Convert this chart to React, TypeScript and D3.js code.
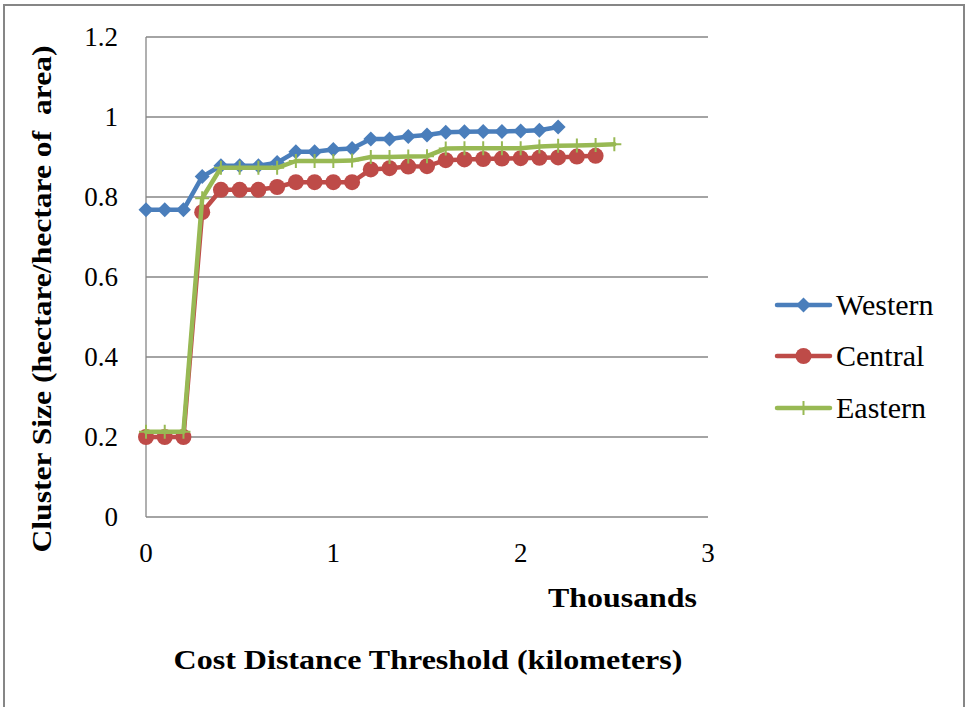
import React from "react";
import * as d3 from "d3";

// Cost distance thresholds (thousands of km), one step every 0.1
const thresholdsWestern = [0, 0.1, 0.2, 0.3, 0.4, 0.5, 0.6, 0.7, 0.8, 0.9, 1.0, 1.1, 1.2, 1.3, 1.4, 1.5, 1.6, 1.7, 1.8, 1.9, 2.0, 2.1, 2.2];
const thresholdsCentral = [0, 0.1, 0.2, 0.3, 0.4, 0.5, 0.6, 0.7, 0.8, 0.9, 1.0, 1.1, 1.2, 1.3, 1.4, 1.5, 1.6, 1.7, 1.8, 1.9, 2.0, 2.1, 2.2, 2.3, 2.4];
const thresholdsEastern = [0, 0.1, 0.2, 0.3, 0.4, 0.5, 0.6, 0.7, 0.8, 0.9, 1.0, 1.1, 1.2, 1.3, 1.4, 1.5, 1.6, 1.7, 1.8, 1.9, 2.0, 2.1, 2.2, 2.3, 2.4, 2.5];

// Cluster size (hectare/hectare of area)
const westernValues = [0.768, 0.768, 0.768, 0.851, 0.878, 0.878, 0.878, 0.886, 0.913, 0.913, 0.919, 0.921, 0.945, 0.945, 0.951, 0.955, 0.962, 0.963, 0.964, 0.964, 0.965, 0.967, 0.975];
const centralValues = [0.2, 0.2, 0.2, 0.762, 0.818, 0.818, 0.818, 0.825, 0.837, 0.837, 0.837, 0.837, 0.869, 0.872, 0.876, 0.877, 0.892, 0.894, 0.895, 0.896, 0.897, 0.898, 0.899, 0.901, 0.903];
const easternValues = [0.213, 0.213, 0.213, 0.797, 0.873, 0.873, 0.873, 0.873, 0.89, 0.89, 0.89, 0.891, 0.9, 0.9, 0.901, 0.902, 0.921, 0.922, 0.922, 0.922, 0.922, 0.926, 0.928, 0.929, 0.93, 0.932];

const seriesNames = ["Western", "Central", "Eastern"];
const seriesColors = ["#4A7EBB", "#BE4B48", "#98B954"];
const seriesMarkers = ["diamond", "circle", "plus"];

const yTicks = [0, 0.2, 0.4, 0.6, 0.8, 1, 1.2];
const xTicks = [0, 1, 2, 3];

const W = 966;
const H = 707;
const plot = { left: 146, right: 708, top: 37, bottom: 517 };
const serif = "'Liberation Serif', 'Times New Roman', Times, serif";

function Marker({ kind, x, y, color }: { kind: string; x: number; y: number; color: string }) {
  if (kind === "diamond") {
    const r = 7.5;
    return <path d={`M${x},${y - r}L${x + r},${y}L${x},${y + r}L${x - r},${y}Z`} fill={color} />;
  }
  if (kind === "circle") {
    return <circle cx={x} cy={y} r={8} fill={color} />;
  }
  const r = 7;
  return (
    <path d={`M${x - r},${y}L${x + r},${y}M${x},${y - r}L${x},${y + r}`} stroke={color} strokeWidth={2} fill="none" />
  );
}

export default function App() {
  const x = d3.scaleLinear().domain([0, 3]).range([plot.left, plot.right]);
  const y = d3.scaleLinear().domain([0, 1.2]).range([plot.bottom, plot.top]);

  const series = [
    { xs: thresholdsWestern, ys: westernValues },
    { xs: thresholdsCentral, ys: centralValues },
    { xs: thresholdsEastern, ys: easternValues },
  ];

  const line = d3
    .line<[number, number]>()
    .x((d) => x(d[0]))
    .y((d) => y(d[1]));

  const legendY = [305, 356, 408];
  const txt = { fontFamily: serif, fill: "#000" } as React.CSSProperties;

  return (
    <svg width={W} height={H} style={{ position: "absolute", left: 0, top: 0, background: "#fff" }}>
      <rect x={0} y={0} width={W} height={H} fill="#fff" />
      {/* chart frame */}
      <path d={`M4,${H + 2}V5H964V${H + 2}`} fill="none" stroke="#868686" strokeWidth={2} />

      {/* horizontal gridlines */}
      {yTicks.map((t) => (
        <line key={t} x1={plot.left} x2={plot.right} y1={y(t)} y2={y(t)} stroke="#868686" strokeWidth={1.3} />
      ))}
      {/* value axis */}
      <line x1={plot.left} x2={plot.left} y1={plot.top} y2={plot.bottom} stroke="#868686" strokeWidth={1.3} />

      {yTicks.map((t) => (
        <text key={t} x={118} y={y(t)} dy="0.35em" textAnchor="end" fontSize={27} style={txt}>
          {d3.format("")(t)}
        </text>
      ))}
      {xTicks.map((t) => (
        <text key={t} x={x(t)} y={562} textAnchor="middle" fontSize={27} style={txt}>
          {t}
        </text>
      ))}

      {/* series */}
      {series.map((s, i) => {
        const pts = s.xs.map((v, j) => [v, s.ys[j]] as [number, number]);
        return (
          <g key={i}>
            <path
              d={line(pts) || ""}
              fill="none"
              stroke={seriesColors[i]}
              strokeWidth={4.5}
              strokeLinejoin="round"
              strokeLinecap="round"
            />
            {pts.map((p, j) => (
              <Marker key={j} kind={seriesMarkers[i]} x={x(p[0])} y={y(p[1])} color={seriesColors[i]} />
            ))}
          </g>
        );
      })}

      {/* legend */}
      {seriesNames.map((name, i) => (
        <g key={name}>
          <line x1={777} x2={830} y1={legendY[i]} y2={legendY[i]} stroke={seriesColors[i]} strokeWidth={4.5} strokeLinecap="round" />
          <Marker kind={seriesMarkers[i]} x={803.5} y={legendY[i]} color={seriesColors[i]} />
          <text x={836} y={legendY[i] + 10} fontSize={30} style={txt}>
            {name}
          </text>
        </g>
      ))}

      {/* axis titles */}
      <text
        x={548}
        y={607}
        fontSize={28}
        fontWeight="bold"
        style={txt}
        textLength={149}
        lengthAdjust="spacingAndGlyphs"
      >
        Thousands
      </text>
      <text
        x={428}
        y={669}
        textAnchor="middle"
        fontSize={28}
        fontWeight="bold"
        style={txt}
        textLength={509}
        lengthAdjust="spacingAndGlyphs"
      >
        Cost Distance Threshold (kilometers)
      </text>
      <text
        transform={`translate(51,299) rotate(-90)`}
        textAnchor="middle"
        fontSize={28}
        fontWeight="bold"
        style={{ ...txt, whiteSpace: "pre" }}
        textLength={507}
        lengthAdjust="spacingAndGlyphs"
      >
        {"Cluster Size (hectare/hectare of  area)"}
      </text>
    </svg>
  );
}
